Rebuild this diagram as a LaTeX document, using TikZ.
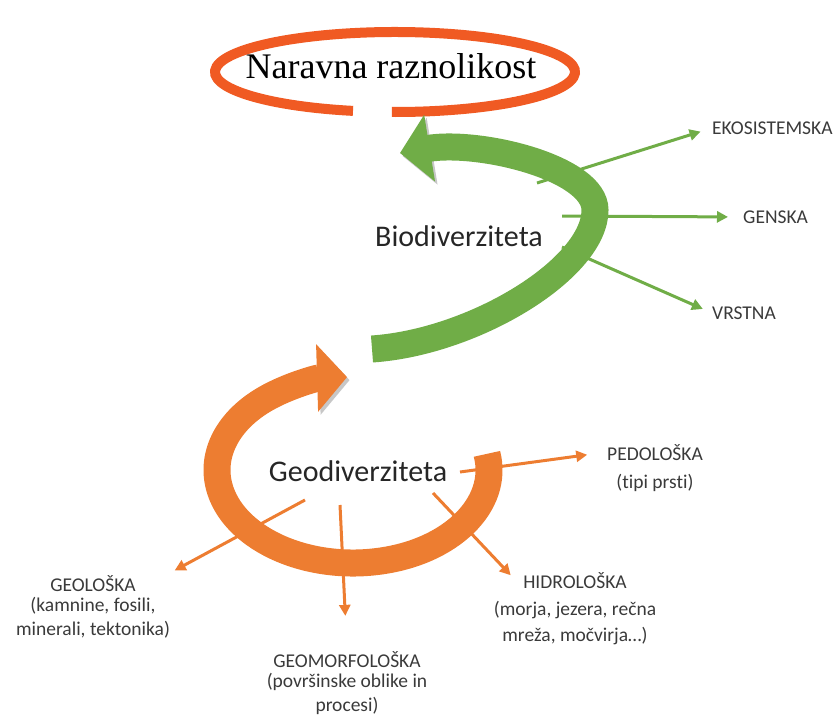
\documentclass[tikz,border=0pt]{standalone}
\usepackage{fontspec}
\setmainfont{Carlito}[Ligatures=NoCommon]
\newfontfamily\titlefont{Liberation Serif}
\usetikzlibrary{arrows.meta, positioning}
\definecolor{ringred}{HTML}{F05A23}
\definecolor{geoorange}{HTML}{ED7D31}
\definecolor{biogreen}{HTML}{70AD47}
\definecolor{lblgray}{HTML}{3A3A3A}
\tikzset{x=1pt, y=-1pt,
every node/.style={inner sep=0pt, text=lblgray},
lbl/.style={font=\fontsize{19.5}{24}\selectfont, align=center},
big/.style={font=\fontsize{30}{36}\selectfont, text=black!85},
band/.style={line width=27pt, -{Triangle[length=30pt, width=66pt]},
  preaction={draw=black!22, transform canvas={shift={(2.5pt,-3pt)}}}},
ray/.style={line width=3pt, -{Triangle[length=11pt, width=11pt]}}
}

\begin{document}
\begin{tikzpicture}
\useasboundingbox (0,0) rectangle (840,717);

% naslov
\node[font=\titlefont\fontsize{36}{42}\selectfont, text=black, anchor=base] (naravna) at (391,78) {Naravna raznolikost};
\coordinate (ringc) at (395,72);
\draw[ringred, line width=10pt] (ringc) ++(103.5:180 and 40) arc[start angle=103.5, end angle=451, x radius=180, y radius=40];

% biodiverziteta
\node[big, anchor=base] (bio) at (459,246) {Biodiverziteta};
\node[lbl, anchor=west] (eko) at (712,128) {EKOSISTEMSKA};
\node[lbl, anchor=west] (gen) at (743,217) {GENSKA};
\node[lbl, anchor=west] (vrs) at (712,313) {VRSTNA};
\coordinate (b1) at (537,183);
\coordinate (b2) at (562,216);
\coordinate (b3) at (562,247);
\draw[ray, biogreen, shorten >=12pt] (b1) -- (eko.west);
\draw[ray, biogreen, shorten >=15pt] (b2) -- (gen.west);
\draw[ray, biogreen, shorten >=10pt] (b3) -- (vrs.west);
\coordinate (btail) at (372,349);
\coordinate (btip) at (400,153);
\draw[band, biogreen] (btail) .. controls (475,342) and (595,268) .. (595,210)
  .. controls (595,168) and (480,140) .. (btip);

% geodiverziteta
\node[big, anchor=base] (geo) at (358,481) {Geodiverziteta};
\node[lbl, anchor=base] (pedo) at (655,460) {PEDOLOŠKA};
\node[lbl, below=14pt of pedo] (pedotxt) {(tipi prsti)};
\node[lbl, anchor=base] (geol) at (93,591) {GEOLOŠKA};
\node[lbl, below=6pt of geol] (geoltxt) {(kamnine, fosili,\\minerali, tektonika)};
\node[lbl, anchor=base] (geom) at (347,667) {GEOMORFOLOŠKA};
\node[lbl, below=6pt of geom] (geomtxt) {(površinske oblike in\\procesi)};
\node[lbl, anchor=base] (hidro) at (575,588) {HIDROLOŠKA};
\node[lbl, below=13pt of hidro] (hidrotxt) {(morja, jezera, rečna\\[2pt]mreža, močvirja…)};
\coordinate (g1) at (460,472);
\coordinate (g2) at (305,500);
\coordinate (g3) at (340,505);
\coordinate (g4) at (433,493);
\draw[ray, geoorange, shorten >=20pt] (g1) -- (pedo.west);
\draw[ray, geoorange, shorten >=44pt] (g2) -- (geol.south east);
\draw[ray, geoorange, shorten >=35pt] (g3) -- (geom.north);
\draw[ray, geoorange, shorten >=18pt] (g4) -- (hidro.south west);
\coordinate (geoc) at (353,470);
\draw[band, geoorange] (geoc) ++(-10:136 and 93) arc[start angle=-10, end angle=267.5, x radius=136, y radius=93];
\end{tikzpicture}
\end{document}
